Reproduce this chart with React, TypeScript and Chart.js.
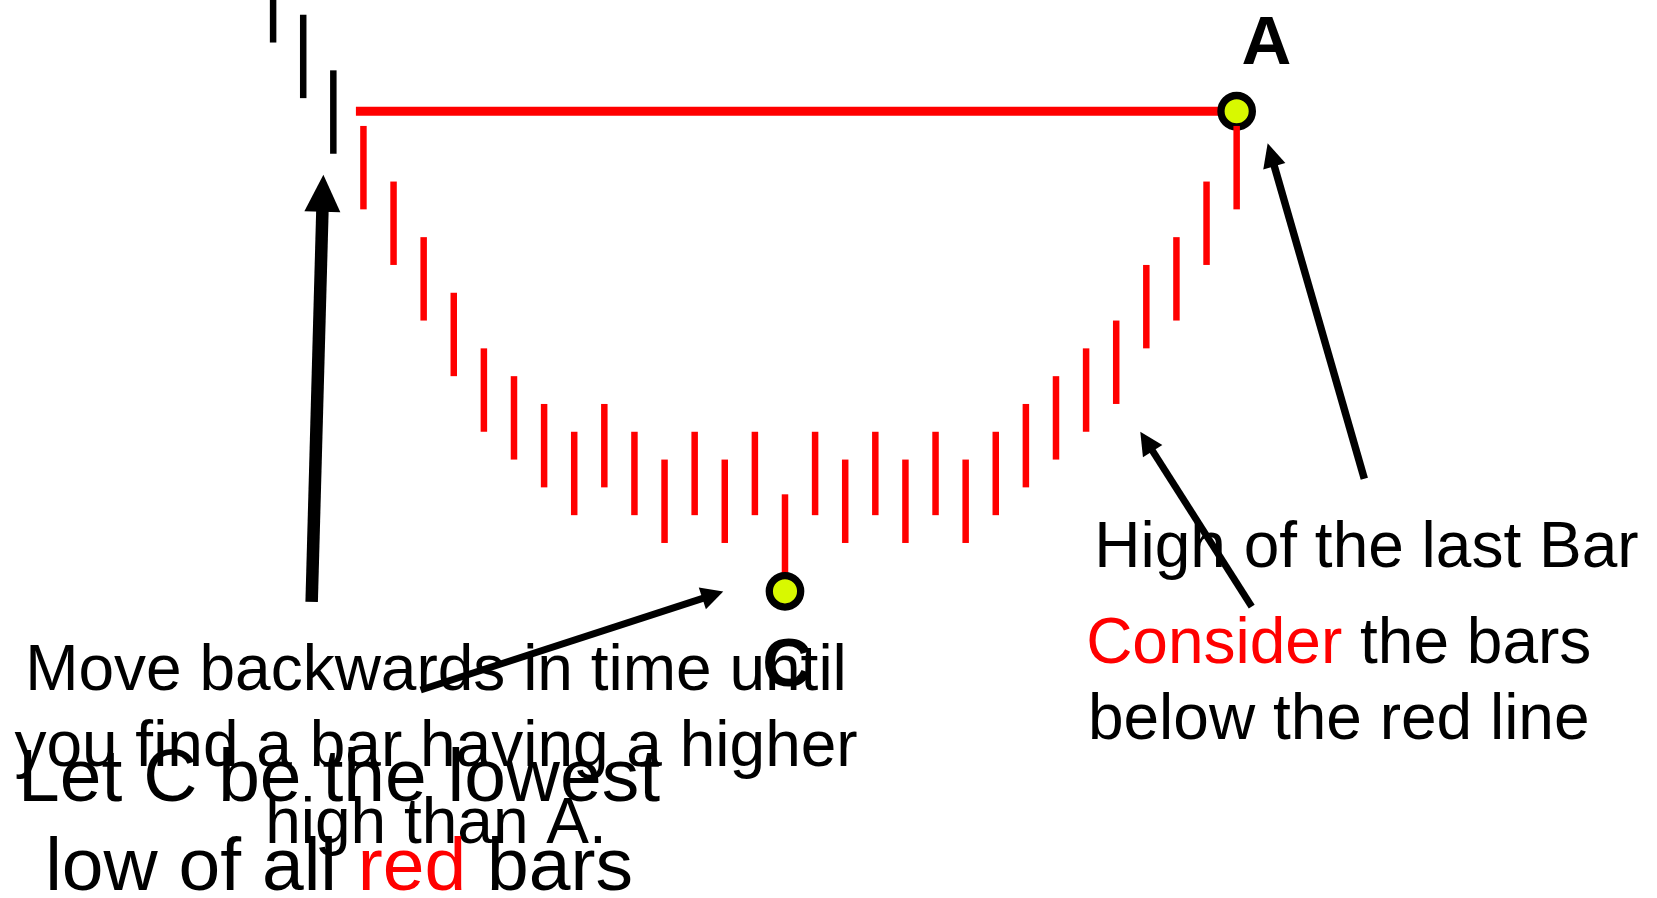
import { useEffect, useRef } from "react";
import { Chart, registerables } from "chart.js";

Chart.register(...registerables);

// Bars before the marked range (time index, high, low)
const blackBarX = [1, 2, 3];
const blackHighs = [26, 24, 22];
const blackLows = [23, 21, 19];

// Bars below the reference line
const redBarX = [4, 5, 6, 7, 8, 9, 10, 11, 12, 13, 14, 15, 16, 17, 18, 19, 20, 21, 22, 23, 24, 25, 26, 27, 28, 29, 30, 31, 32, 33];
const redHighs = [20, 18, 16, 14, 12, 11, 10, 9, 10, 9, 8, 9, 8, 9, 6.75, 9, 8, 9, 8, 9, 8, 9, 10, 11, 12, 13, 15, 16, 18, 20];
const redLows = [17, 15, 13, 11, 9, 8, 7, 6, 7, 6, 5, 6, 5, 6, 3.75, 6, 5, 6, 5, 6, 5, 6, 7, 8, 9, 10, 12, 13, 15, 17];

// Marked points: A (high of the last bar) and C (lowest low)
const pointA = { x: 33, y: 20.53 };
const pointC = { x: 18, y: 3.26 };
const levelLineStartX = 3.75;

// Visible window of the axes
const xRange = [-8.07, 46.96];
const yRange = [-7.77, 24.53];

const RED = "#ff0000";
const BLACK = "#000000";
const MARKER_FILL = "#d8f900";
const FONT = '"Liberation Sans", Arial, Helvetica, sans-serif';

type Seg = { text: string; color: string };
type TextLine = { x: number; y: number; size: number; bold?: boolean; segs: Seg[] };
type Arrow = { from: [number, number]; to: [number, number]; shaft: number; headLen: number; headWidth: number };

const textLines: TextLine[] = [
  { x: 33.99, y: 22.23, size: 69, bold: true, segs: [{ text: "A", color: BLACK }] },
  { x: 18.07, y: -0.14, size: 69, bold: true, segs: [{ text: "C", color: BLACK }] },
  { x: 6.41, y: -0.29, size: 64, segs: [{ text: "Move backwards in time until", color: BLACK }] },
  { x: 6.41, y: -3.04, size: 64, segs: [{ text: "you find a bar having a higher", color: BLACK }] },
  { x: 6.41, y: -5.79, size: 64, segs: [{ text: "high than A.", color: BLACK }] },
  { x: 3.19, y: -4.28, size: 75, segs: [{ text: "Let C be the lowest", color: BLACK }] },
  {
    x: 3.19,
    y: -7.48,
    size: 75,
    segs: [
      { text: "low of all ", color: BLACK },
      { text: "red", color: RED },
      { text: " bars", color: BLACK },
    ],
  },
  { x: 37.31, y: 4.13, size: 64, segs: [{ text: "High of the last Bar", color: BLACK }] },
  {
    x: 36.39,
    y: 0.69,
    size: 64,
    segs: [
      { text: "Consider", color: RED },
      { text: " the bars", color: BLACK },
    ],
  },
  { x: 36.39, y: -2.06, size: 64, segs: [{ text: "below the red line", color: BLACK }] },
];

const arrows: Arrow[] = [
  { from: [2.28, 2.88], to: [2.67, 18.24], shaft: 12.5, headLen: 37, headWidth: 36 },
  { from: [5.9, -0.29], to: [15.95, 3.25], shaft: 7, headLen: 22, headWidth: 23 },
  { from: [33.5, 2.71], to: [29.8, 9.0], shaft: 7, headLen: 23, headWidth: 23 },
  { from: [37.24, 7.31], to: [34.03, 19.38], shaft: 7.5, headLen: 24, headWidth: 23 },
];

const notesPlugin = {
  id: "notes",
  afterDatasetsDraw(chart: any) {
    const { ctx } = chart;
    const xs = chart.scales.x;
    const ys = chart.scales.y;
    ctx.save();

    for (const t of textLines) {
      ctx.font = `${t.bold ? "bold " : ""}${t.size}px ${FONT}`;
      ctx.textBaseline = "alphabetic";
      ctx.textAlign = "left";
      const total = t.segs.reduce((w, s) => w + ctx.measureText(s.text).width, 0);
      let px = xs.getPixelForValue(t.x) - total / 2;
      const py = ys.getPixelForValue(t.y);
      for (const s of t.segs) {
        ctx.fillStyle = s.color;
        ctx.fillText(s.text, px, py);
        px += ctx.measureText(s.text).width;
      }
    }

    for (const a of arrows) {
      const x0 = xs.getPixelForValue(a.from[0]);
      const y0 = ys.getPixelForValue(a.from[1]);
      const x1 = xs.getPixelForValue(a.to[0]);
      const y1 = ys.getPixelForValue(a.to[1]);
      const len = Math.hypot(x1 - x0, y1 - y0);
      const ux = (x1 - x0) / len;
      const uy = (y1 - y0) / len;
      const bx = x1 - ux * a.headLen;
      const by = y1 - uy * a.headLen;
      ctx.strokeStyle = BLACK;
      ctx.fillStyle = BLACK;
      ctx.lineWidth = a.shaft;
      ctx.lineCap = "butt";
      ctx.beginPath();
      ctx.moveTo(x0, y0);
      ctx.lineTo(bx + ux * 2, by + uy * 2);
      ctx.stroke();
      const hw = a.headWidth / 2;
      ctx.beginPath();
      ctx.moveTo(x1, y1);
      ctx.lineTo(bx - uy * hw, by + ux * hw);
      ctx.lineTo(bx + uy * hw, by - ux * hw);
      ctx.closePath();
      ctx.fill();
    }

    ctx.restore();
  },
};

export default function App() {
  const ref = useRef<HTMLCanvasElement>(null);

  useEffect(() => {
    const canvas = ref.current;
    if (!canvas) return;
    const chart = new Chart(canvas, {
      type: "bar",
      data: {
        datasets: [
          {
            type: "scatter",
            label: "C",
            data: [pointC],
            order: 0,
            pointStyle: "circle",
            pointRadius: 15.7,
            pointBorderWidth: 7.3,
            pointBackgroundColor: MARKER_FILL,
            pointBorderColor: BLACK,
            showLine: false,
          } as any,
          {
            type: "bar",
            label: "Red bars",
            data: redBarX.map((x, i) => ({ x, y: [redLows[i], redHighs[i]] })),
            backgroundColor: RED,
            borderWidth: 0,
            grouped: false,
            maxBarThickness: 6.5,
            order: 1,
          } as any,
          {
            type: "bar",
            label: "Earlier bars",
            data: blackBarX.map((x, i) => ({ x, y: [blackLows[i], blackHighs[i]] })),
            backgroundColor: BLACK,
            borderWidth: 0,
            grouped: false,
            maxBarThickness: 6.5,
            order: 1,
          } as any,
          {
            type: "scatter",
            label: "A",
            data: [pointA],
            order: 2,
            pointStyle: "circle",
            pointRadius: 15.7,
            pointBorderWidth: 7.3,
            pointBackgroundColor: MARKER_FILL,
            pointBorderColor: BLACK,
            showLine: false,
          } as any,
          {
            type: "line",
            label: "Level of A",
            data: [
              { x: levelLineStartX, y: pointA.y },
              { x: pointA.x, y: pointA.y },
            ],
            borderColor: RED,
            borderWidth: 9,
            borderCapStyle: "butt",
            pointRadius: 0,
            fill: false,
            order: 3,
          } as any,
        ],
      },
      options: {
        responsive: false,
        animation: false,
        events: [],
        layout: { padding: 0, autoPadding: false },
        plugins: {
          legend: { display: false },
          tooltip: { enabled: false },
        },
        scales: {
          x: {
            type: "linear",
            min: xRange[0],
            max: xRange[1],
            display: false,
            offset: false,
            grid: { display: false },
          },
          y: {
            type: "linear",
            min: yRange[0],
            max: yRange[1],
            display: false,
            grid: { display: false },
          },
        },
      } as any,
      plugins: [notesPlugin],
    });
    return () => chart.destroy();
  }, []);

  return (
    <div style={{ position: "fixed", left: 0, top: 0, width: 1657, height: 898, background: "#ffffff" }}>
      <canvas ref={ref} width={1657} height={898} style={{ display: "block" }} />
    </div>
  );
}
